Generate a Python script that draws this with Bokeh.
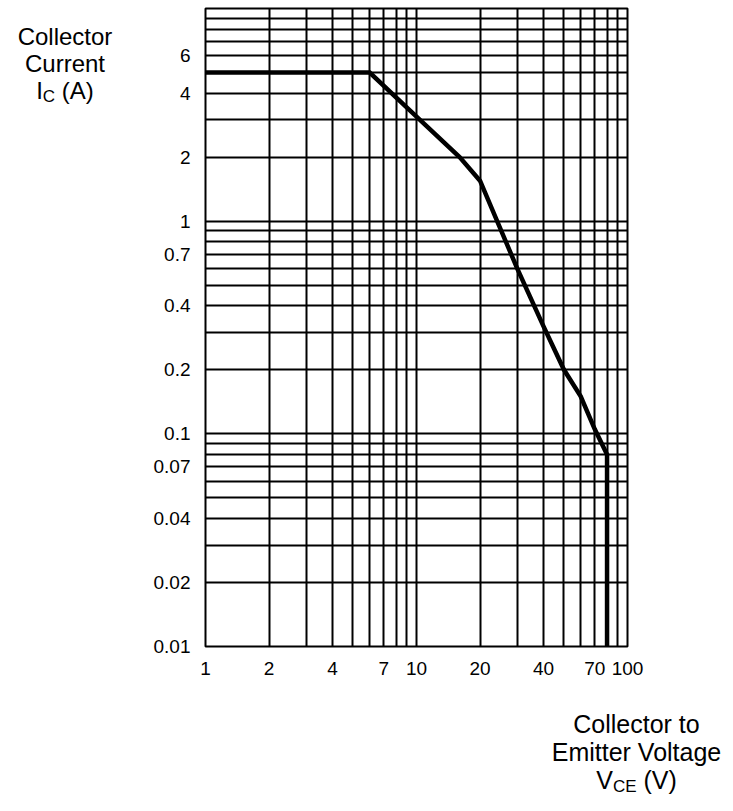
from bokeh.plotting import figure
from bokeh.models import Range1d, FixedTicker, CustomJSTickFormatter, Div, Spacer
from bokeh.layouts import row, column
from bokeh.embed import file_html
from bokeh.resources import INLINE

# Safe operating area curve
vce = [1, 6, 10, 16, 20, 30, 40, 50, 60, 70, 80, 80]
ic = [5, 5, 3.1, 2.0, 1.55, 0.6, 0.32, 0.2, 0.15, 0.105, 0.08, 0.01]

x_tick_labels = [1, 2, 4, 7, 10, 20, 40, 70, 100]
y_tick_labels = [0.01, 0.02, 0.04, 0.07, 0.1, 0.2, 0.4, 0.7, 1, 2, 4, 6]

mantissas = [1, 2, 3, 4, 5, 6, 7, 8, 9]
x_grid = [m * 10 ** d for d in (0, 1) for m in mantissas] + [100]
y_grid = [m * 10.0 ** d for d in (-2, -1, 0) for m in mantissas] + [10]

y_title = ["Collector", "Current", ("I", "C", " (A)")]
x_title = ["Collector to", "Emitter Voltage", ("V", "CE", " (V)")]

FONT = "Liberation Sans"

p = figure(width=593, height=686, x_axis_type="log", y_axis_type="log",
           x_range=Range1d(1, 100), y_range=Range1d(0.01, 10),
           output_backend="svg", toolbar_location=None,
           min_border_left=65, min_border_right=106,
           min_border_top=8, min_border_bottom=40)
p.title.visible = False
p.background_fill_color = "white"
p.border_fill_color = "white"
p.outline_line_color = "black"
p.outline_line_width = 2

fmt = CustomJSTickFormatter(code="return String(tick);")
for ax, ticks, standoff in ((p.xaxis[0], x_tick_labels, 15), (p.yaxis[0], y_tick_labels, 15)):
    ax.ticker = FixedTicker(ticks=ticks)
    ax.formatter = fmt
    ax.axis_line_color = None
    ax.major_tick_line_color = None
    ax.minor_tick_line_color = None
    ax.major_tick_out = 0
    ax.major_tick_in = 0
    ax.minor_tick_out = 0
    ax.minor_tick_in = 0
    ax.major_label_text_font = FONT
    ax.major_label_text_font_size = "19px"
    ax.major_label_text_color = "black"
    ax.major_label_standoff = standoff

p.xgrid.ticker = FixedTicker(ticks=x_grid)
p.ygrid.ticker = FixedTicker(ticks=y_grid)
for g in (p.xgrid[0], p.ygrid[0]):
    g.grid_line_color = "black"
    g.grid_line_alpha = 1.0
    g.grid_line_width = 2

p.line(vce, ic, line_width=4.5, line_color="black", line_join="miter")


def title_html(lines, width, pad_top, line_h, size):
    parts = []
    for ln in lines:
        if isinstance(ln, tuple):
            main, sub, rest = ln
            parts.append(f"{main}<span style=\"font-size:17px;position:relative;top:3px\">{sub}</span>{rest}")
        else:
            parts.append(ln)
    body = "<br>".join(parts)
    return (f"<div style=\"font-family:'{FONT}';font-size:{size}px;line-height:{line_h}px;"
            f"color:black;text-align:center;white-space:nowrap;width:{width}px;"
            f"padding-top:{pad_top}px;margin:0\">{body}</div>")


ydiv = Div(text=title_html(y_title, 130, 23, 27, 24), width=140, height=120, margin=0)
xdiv = Div(text=title_html(x_title, 193, 24, 28, 25), width=193, height=120, margin=0)

layout = column(row(ydiv, p, spacing=0), row(Spacer(width=540, height=120, margin=0), xdiv, spacing=0),
                spacing=0)

open("out.html", "w").write(file_html(layout, INLINE))
